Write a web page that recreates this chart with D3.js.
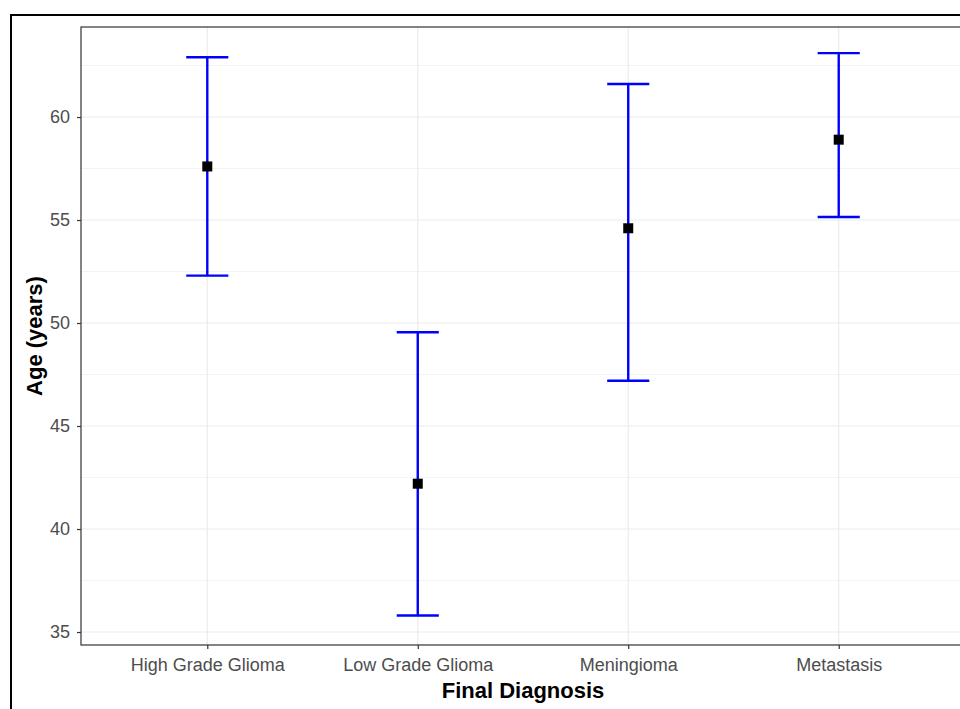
<!DOCTYPE html>
<html>
<head>
<meta charset="utf-8">
<script src="https://cdn.jsdelivr.net/npm/d3@7"></script>
<style>
  html, body { margin: 0; padding: 0; background: #fff; }
  svg { display: block; font-family: "Liberation Sans", Arial, sans-serif; }
</style>
</head>
<body>
<svg id="chart" width="960" height="709"></svg>
<script>
// Age by final diagnosis: mean with interval
const categories = ["High Grade Glioma", "Low Grade Glioma", "Meningioma", "Metastasis"];
const meanAge  = [57.6, 42.2, 54.6, 58.9];
const lowerAge = [52.3, 35.8, 47.2, 55.15];
const upperAge = [62.9, 49.55, 61.6, 63.1];
const yTicks = [35, 40, 45, 50, 55, 60];
const yMinor = [37.5, 42.5, 47.5, 52.5, 57.5, 62.5];

const svg = d3.select("#chart");
const panel = { left: 81, top: 27, right: 965, bottom: 645 };

// outer frame
svg.append("rect")
  .attr("x", 11).attr("y", 15)
  .attr("width", 1000).attr("height", 1000)
  .attr("fill", "none").attr("stroke", "#000").attr("stroke-width", 2);

// discrete x positions with 0.6 expansion on both sides
const x = d3.scaleLinear().domain([0.4, 4.6]).range([panel.left, panel.right]);
const y = d3.scaleLinear().domain([34.37, 64.37]).range([panel.bottom, panel.top]);

const g = svg.append("g");

// minor grid
g.selectAll("line.minor").data(yMinor).join("line")
  .attr("x1", panel.left).attr("x2", panel.right)
  .attr("y1", d => y(d)).attr("y2", d => y(d))
  .attr("stroke", "#ebebeb").attr("stroke-width", 0.6);

// major grid
g.selectAll("line.majorY").data(yTicks).join("line")
  .attr("x1", panel.left).attr("x2", panel.right)
  .attr("y1", d => y(d)).attr("y2", d => y(d))
  .attr("stroke", "#ebebeb").attr("stroke-width", 1.2);
g.selectAll("line.majorX").data(categories).join("line")
  .attr("x1", (d, i) => x(i + 1)).attr("x2", (d, i) => x(i + 1))
  .attr("y1", panel.top).attr("y2", panel.bottom)
  .attr("stroke", "#ebebeb").attr("stroke-width", 1.2);

// error bars
const capHalf = (x(1.1) - x(1));
const bars = g.selectAll("g.bar").data(categories).join("g");
bars.append("line")
  .attr("x1", (d, i) => x(i + 1)).attr("x2", (d, i) => x(i + 1))
  .attr("y1", (d, i) => y(lowerAge[i])).attr("y2", (d, i) => y(upperAge[i]))
  .attr("stroke", "#0000ff").attr("stroke-width", 2.4);
bars.append("line")
  .attr("x1", (d, i) => x(i + 1) - capHalf).attr("x2", (d, i) => x(i + 1) + capHalf)
  .attr("y1", (d, i) => y(upperAge[i])).attr("y2", (d, i) => y(upperAge[i]))
  .attr("stroke", "#0000ff").attr("stroke-width", 2.4);
bars.append("line")
  .attr("x1", (d, i) => x(i + 1) - capHalf).attr("x2", (d, i) => x(i + 1) + capHalf)
  .attr("y1", (d, i) => y(lowerAge[i])).attr("y2", (d, i) => y(lowerAge[i]))
  .attr("stroke", "#0000ff").attr("stroke-width", 2.4);
bars.append("rect")
  .attr("x", (d, i) => x(i + 1) - 5).attr("y", (d, i) => y(meanAge[i]) - 5)
  .attr("width", 10).attr("height", 10)
  .attr("fill", "#000");

// panel border
svg.append("rect")
  .attr("x", panel.left).attr("y", panel.top)
  .attr("width", panel.right - panel.left).attr("height", panel.bottom - panel.top)
  .attr("fill", "none").attr("stroke", "#333").attr("stroke-width", 1.2);

// y axis
const yAxis = svg.append("g")
  .attr("transform", `translate(${panel.left},0)`)
  .call(d3.axisLeft(y).tickValues(yTicks).tickSize(4).tickPadding(7));
yAxis.select(".domain").remove();
yAxis.selectAll(".tick line").attr("stroke", "#333").attr("stroke-width", 1.2);
yAxis.selectAll(".tick text").attr("fill", "#4d4d4d").attr("font-size", 18)
  .attr("font-family", "Liberation Sans, Arial, sans-serif");

// x axis
const xAxis = svg.append("g")
  .attr("transform", `translate(0,${panel.bottom})`)
  .call(d3.axisBottom(x).tickValues([1, 2, 3, 4]).tickFormat(d => categories[d - 1]).tickSize(4).tickPadding(9));
xAxis.select(".domain").remove();
xAxis.selectAll(".tick line").attr("stroke", "#333").attr("stroke-width", 1.2);
xAxis.selectAll(".tick text").attr("fill", "#4d4d4d").attr("font-size", 18)
  .attr("font-family", "Liberation Sans, Arial, sans-serif");

// axis titles
svg.append("text")
  .attr("x", (panel.left + panel.right) / 2).attr("y", 698)
  .attr("text-anchor", "middle").attr("font-weight", "bold").attr("font-size", 22)
  .attr("fill", "#000").text("Final Diagnosis");
svg.append("text")
  .attr("transform", `translate(42,${(panel.top + panel.bottom) / 2}) rotate(-90)`)
  .attr("text-anchor", "middle").attr("font-weight", "bold").attr("font-size", 22)
  .attr("fill", "#000").text("Age (years)");
</script>
</body>
</html>
